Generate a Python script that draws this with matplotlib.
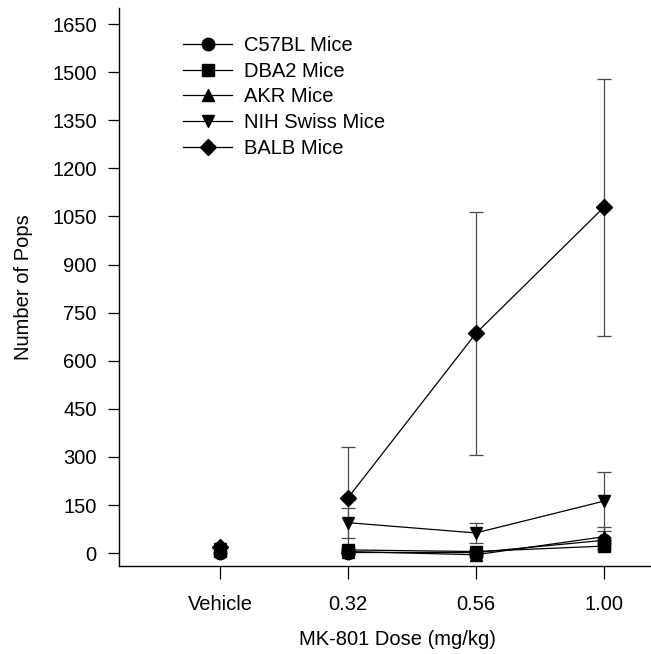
import matplotlib
matplotlib.use("Agg")
import matplotlib.pyplot as plt
import numpy as np

plt.rcParams['font.family'] = ['Liberation Sans', 'DejaVu Sans']

doses = ["Vehicle", "0.32", "0.56", "1.00"]
series = ["C57BL Mice", "DBA2 Mice", "AKR Mice", "NIH Swiss Mice", "BALB Mice"]
markers = ["o", "s", "^", "v", "D"]

c57bl = [0, 2, 2, 40]
c57bl_err = [5, 5, 5, 10]
dba2 = [8, 10, 5, 22]
dba2_err = [5, 5, 5, 10]
akr = [15, 5, -5, 51]
akr_err = [5, 5, 5, 30]
nih = [12, 95, 63, 162]
nih_err = [5, 47, 30, 92]
balb = [18, 172, 685, 1078]
balb_err = [5, 159, 380, 402]

values = [c57bl, dba2, akr, nih, balb]
errors = [c57bl_err, dba2_err, akr_err, nih_err, balb_err]

yticks = [0, 150, 300, 450, 600, 750, 900, 1050, 1200, 1350, 1500, 1650]

FS = 14.5

fig = plt.figure(figsize=(6.51, 6.54), dpi=100)
ax = fig.add_axes([0.1828, 0.1346, 0.8172, 0.8532])

x = np.arange(len(doses))
for name, m, v, e in zip(series, markers, values, errors):
    v = np.array(v, dtype=float)
    e = np.array(e, dtype=float)
    ms = 9 if m != 'D' else 8.5
    ax.errorbar(x[1:], v[1:], yerr=e[1:], fmt='none', ecolor='#4a4a4a',
                elinewidth=0.9, capsize=5, capthick=0.9, zorder=2)
    ax.plot(x[1:], v[1:], color='black', lw=0.9, marker=m, ms=ms,
            mfc='black', mec='black', label=name, zorder=3)
    ax.plot(x[:1], v[:1], color='black', lw=0, marker=m, ms=ms,
            mfc='black', mec='black', zorder=3)

ax.set_xlim(-0.79, 3.37)
ax.set_ylim(-40, 1700)
ax.set_xticks(x)
ax.set_xticklabels(doses)
ax.set_yticks(yticks)
ax.tick_params(axis='x', direction='out', length=9.5, width=0.9, pad=11.5, labelsize=FS)
ax.tick_params(axis='y', direction='out', length=8, width=0.9, pad=8, labelsize=FS)
for s in ['top', 'right']:
    ax.spines[s].set_visible(False)
for s in ['left', 'bottom']:
    ax.spines[s].set_linewidth(1.0)

ax.set_xlabel("MK-801 Dose (mg/kg)", fontsize=FS)
ax.set_ylabel("Number of Pops", fontsize=FS, labelpad=14)
ax.xaxis.set_label_coords(0.523, -0.1147)

leg = ax.legend(loc='upper left', bbox_to_anchor=(0.12, 0.9496), frameon=False,
                fontsize=FS, handlelength=2.45, handletextpad=0.6,
                labelspacing=0.33, borderaxespad=0, borderpad=0)

fig.savefig("out.png", dpi=100)
